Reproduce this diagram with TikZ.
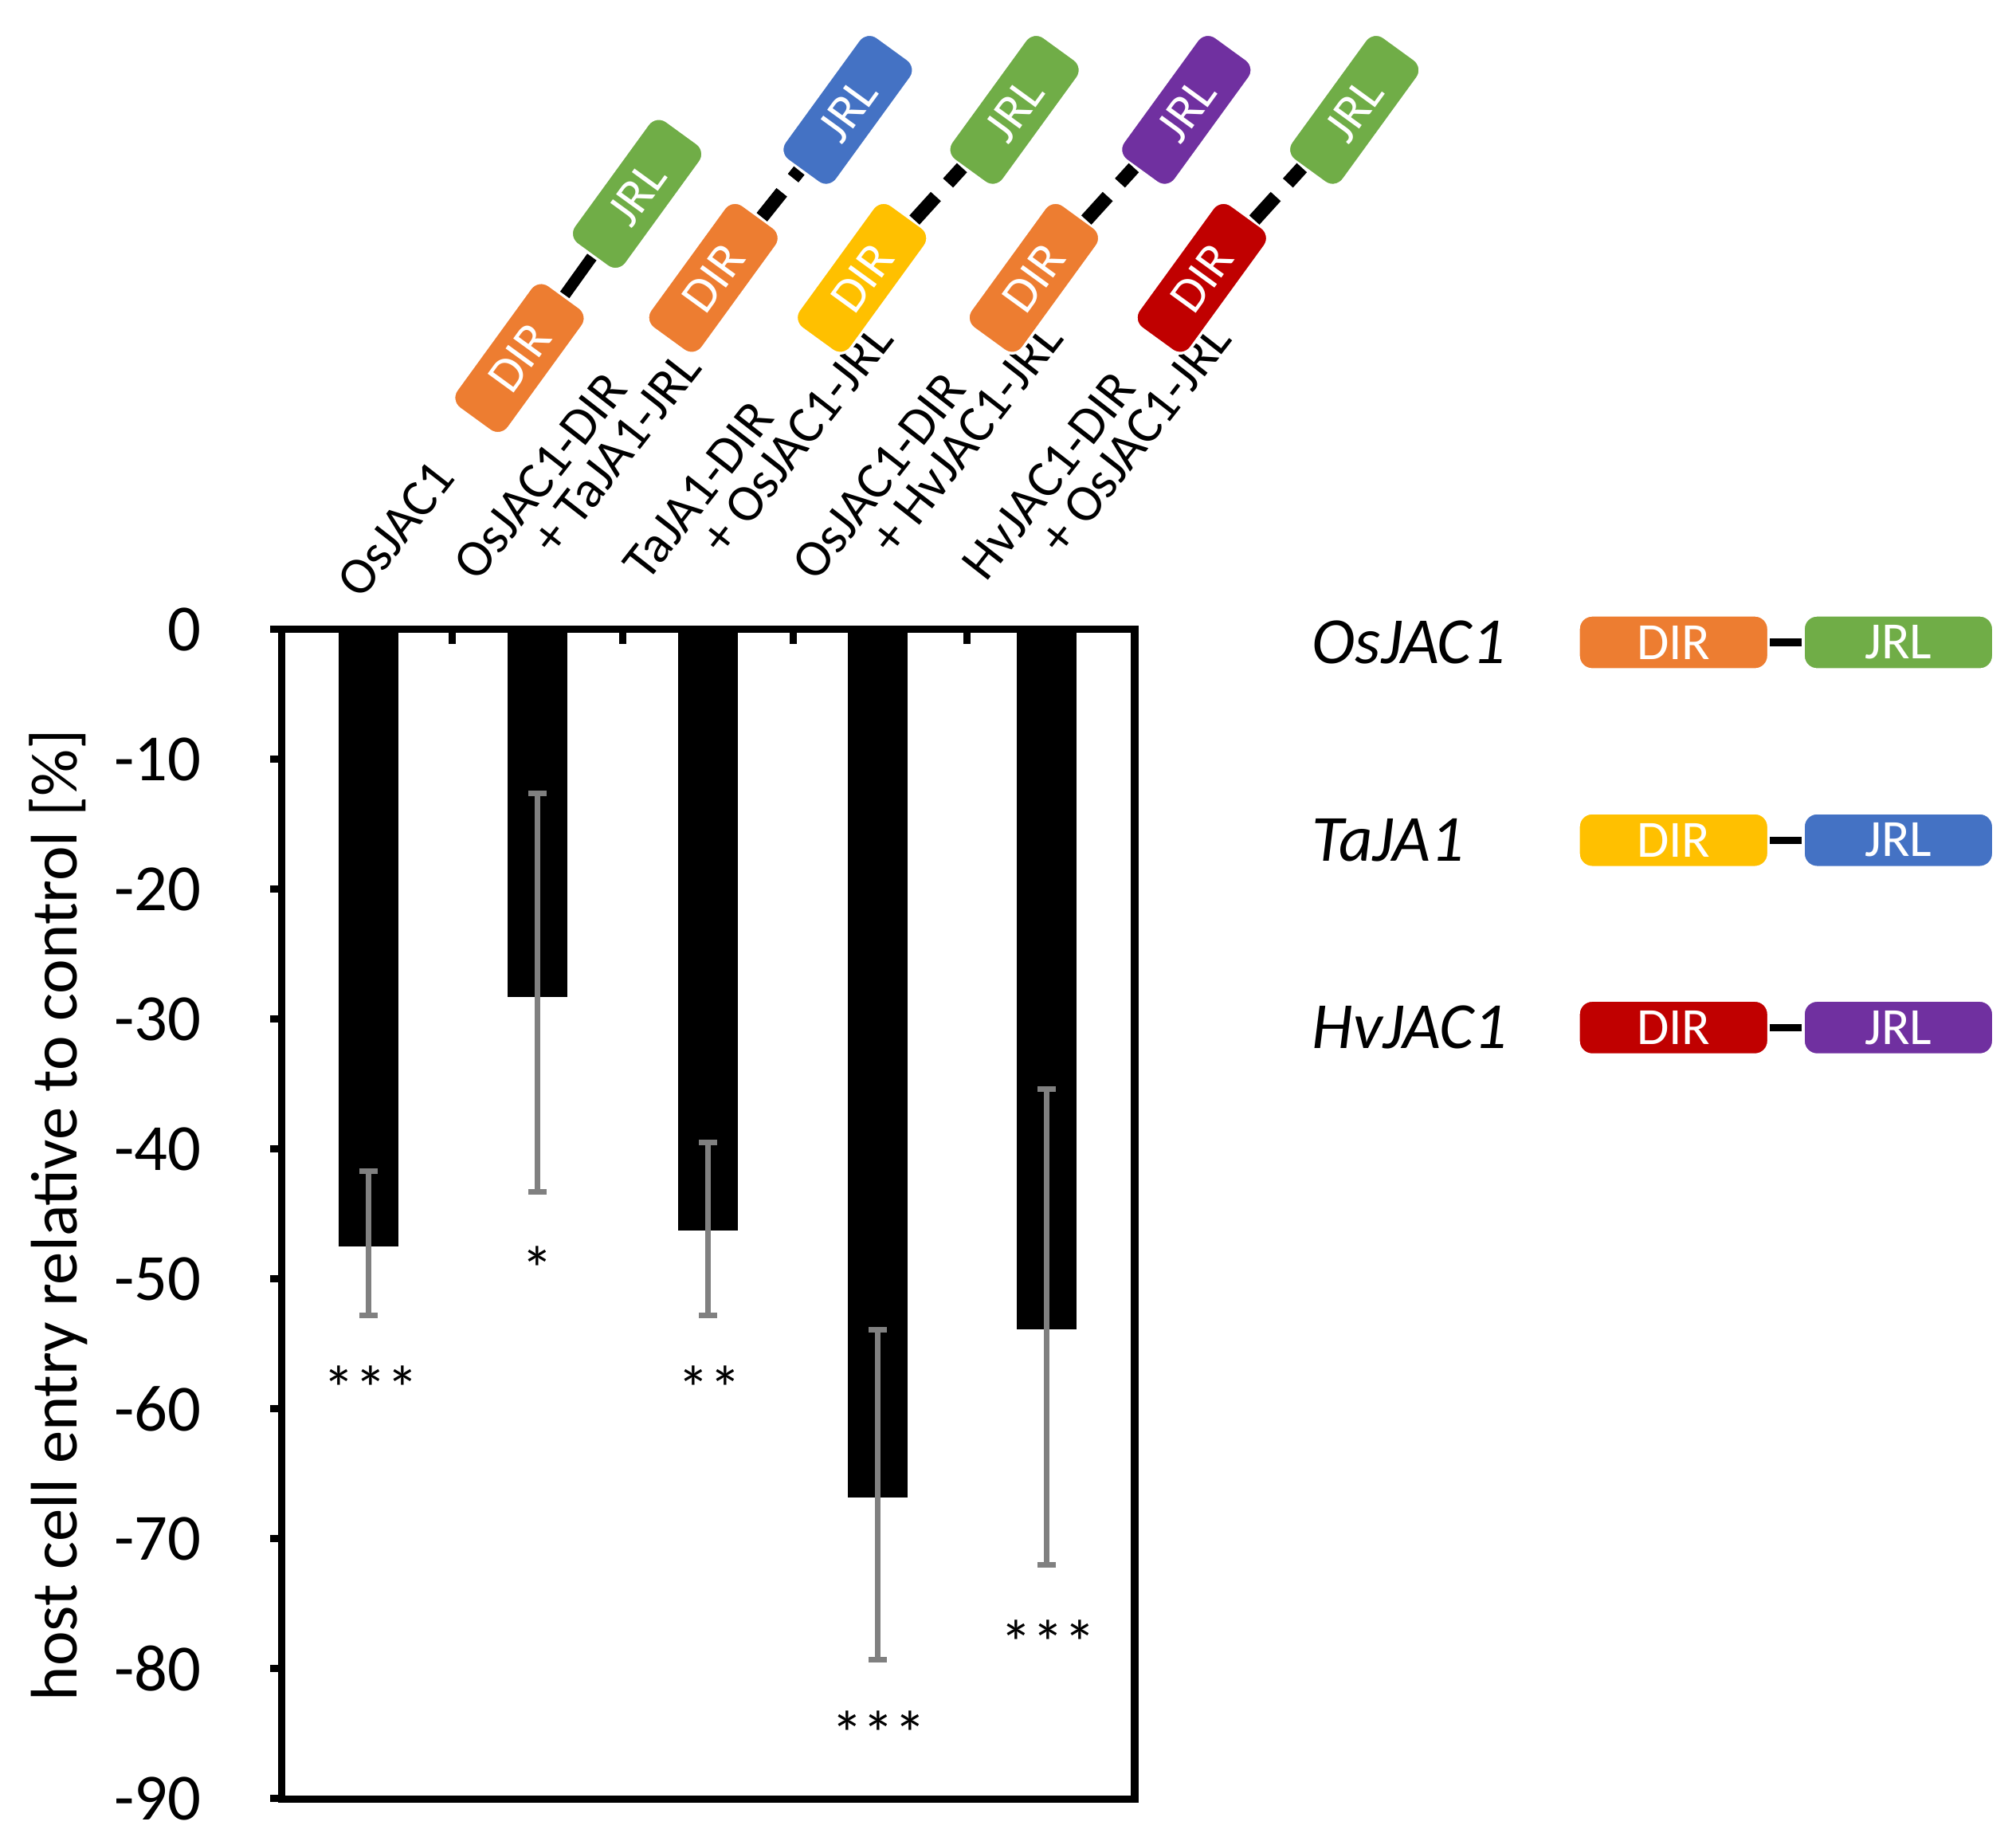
\documentclass[tikz,border=0pt]{standalone}
\usepackage{fontspec}
\setmainfont{Carlito}
\definecolor{cdorange}{HTML}{ED7D31}
\definecolor{cdgreen}{HTML}{70AD47}
\definecolor{cdblue}{HTML}{4472C4}
\definecolor{cdyellow}{HTML}{FFC000}
\definecolor{cdred}{HTML}{C00000}
\definecolor{cdpurple}{HTML}{7030A0}
\tikzset{
  dom/.style={draw=white, line width=0.6pt, rounded corners=3pt, text=white, inner sep=0pt,
    minimum width=1.18cm, minimum height=0.5cm, font=\fontsize{11}{11}\selectfont, rotate=54},
  leg/.style={draw=white, line width=0.6pt, rounded corners=3pt, text=white, inner sep=0pt,
    minimum width=1.47cm, minimum height=0.42cm, font=\fontsize{11.5}{11.5}\selectfont},
  cat/.style={rotate=52, align=left, font=\fontsize{11.5}{10}\selectfont, inner sep=0pt},
  stars/.style={font=\fontsize{14}{14}\selectfont},
  errbar/.style={draw=gray, line width=1.2pt}
}
\begin{document}
\begin{tikzpicture}[x=0.01cm, y=-0.01cm]
            \useasboundingbox (0,0) rectangle (1560,1424);
            % bars and error bars
            \foreach \x/\v/\lo/\hi in {285/47.5/41.7/52.8, 416/28.3/12.6/43.3, 548/46.3/39.5/52.8, 679/66.8/53.9/79.3, 810/53.9/35.4/72.0}{
                    \fill[black] (\x-23,487) rectangle (\x+23,487+\v*10.05);
                    \draw[errbar] (\x,487+\lo*10.05) -- (\x,487+\hi*10.05);
                    \draw[errbar] (\x-7,487+\lo*10.05) -- (\x+7,487+\lo*10.05);
                    \draw[errbar] (\x-7,487+\hi*10.05) -- (\x+7,487+\hi*10.05);
                }
            % frame and ticks
            \draw[line width=1.6pt] (218,487) rectangle (878,1392);
            \foreach \x in {350,482,614,748}
            \draw[line width=1.6pt] (\x,487) -- (\x,498);
            \foreach \v in {0,10,...,90}{
                    \draw[line width=1.6pt] (209,487+\v*10.05) -- (218,487+\v*10.05);
                    \node[anchor=east, font=\fontsize{14.5}{14.5}\selectfont] (t\v) at (168,487+\v*10.05) {\ifnum\v=0 0\else -\v\fi};
                }
            \node[rotate=90, font=\fontsize{14.5}{14.5}\selectfont] (ylab) at (45,940) {host cell entry relative to control [\%]};
            % significance
            \node[stars] (s1) at (287,1074) {***};
            \node[stars] (s2) at (416,982) {*};
            \node[stars] (s3) at (549,1074) {**};
            \node[stars] (s4) at (680,1341) {***};
            \node[stars] (s5) at (811,1271) {***};
            % category labels
            \node[cat, anchor=south west] (c1) at (280,466) {OsJAC1};
            \node[cat, anchor=south west] (c2) at (398,474) {OsJAC1-DIR\\\hspace{1.3em}+ TaJA1-JRL};
            \node[cat, anchor=south west] (c3) at (529,474) {TaJA1-DIR\\\hspace{1.3em}+ OsJAC1-JRL};
            \node[cat, anchor=south west] (c4) at (660,474) {OsJAC1-DIR\\\hspace{1.3em}+ HvJAC1-JRL};
            \node[cat, anchor=south west] (c5) at (791,474) {HvJAC1-DIR\\\hspace{1.3em}+ OsJAC1-JRL};
            % domain sketches
            \node[dom, fill=cdorange] (d1) at (402,277) {DIR};
            \node[dom, fill=cdgreen] (j1) at (493,150) {JRL};
            \draw[line width=2.5pt] (d1) -- (j1);
            \foreach \n/\xd/\xj/\cd/\cj in {2/552/656/cdorange/cdblue, 3/667/785/cdyellow/cdgreen, 4/800/918/cdorange/cdpurple, 5/930/1048/cdred/cdgreen}{
                    \node[dom, fill=\cd] (d\n) at (\xd,215) {DIR};
                    \node[dom, fill=\cj] (j\n) at (\xj,85) {JRL};
                    \draw[line width=3pt, dash pattern=on 7pt off 4pt] (d\n) -- (j\n);
                }
            % legend
            \foreach \y/\nm/\cd/\cj in {497/OsJAC1/cdorange/cdgreen, 650/TaJA1/cdyellow/cdblue, 795/HvJAC1/cdred/cdpurple}{
                    \node[anchor=west, font=\fontsize{14.5}{14.5}\selectfont\itshape] (l\nm) at (1003,\y) {\nm};
                    \node[leg, fill=\cd] (ld\nm) at (1295,\y) {DIR};
                    \node[leg, fill=\cj] (lj\nm) at (1469,\y) {JRL};
                    \draw[line width=1.6pt] (ld\nm) -- (lj\nm);
                }
        \end{tikzpicture}
\end{document}
